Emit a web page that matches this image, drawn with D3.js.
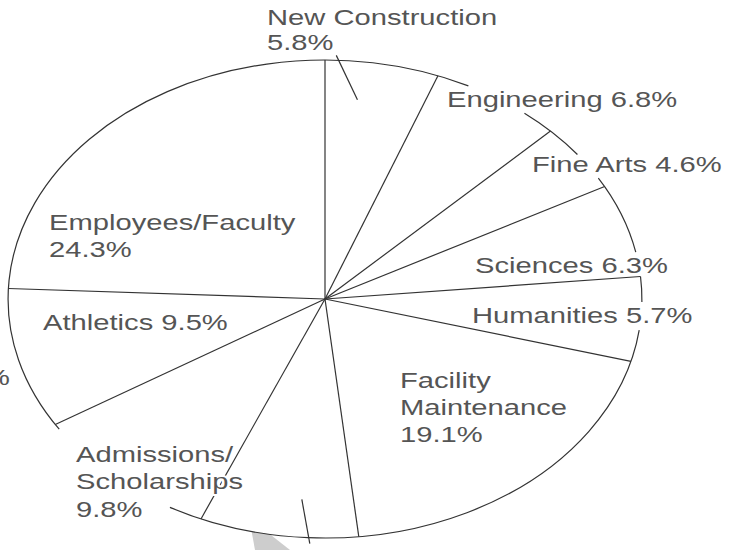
<!DOCTYPE html>
<html><head><meta charset="utf-8">
<script src="https://cdn.jsdelivr.net/npm/d3@7"></script>
<style>
html,body{margin:0;padding:0;background:#fff;}
svg{display:block;}
text{font-family:"Liberation Sans", Arial, Helvetica, sans-serif;}
</style></head><body>
<svg id="chart" width="743" height="550"></svg>
<script>
// ---- data (clockwise from the top) ----
const categories = ["New Construction","Engineering","Fine Arts","Sciences","Humanities",
                    "Facility Maintenance","Other","Admissions/Scholarships","Athletics","Employees/Faculty"];
const values = [5.8, 6.8, 4.6, 6.3, 5.7, 19.1, 8.1, 9.8, 9.5, 24.3];

// ---- layout (kept apart from the data) ----
const W = 743, H = 550;
const cx = 325, cy = 299, R = 239, sx = 1.326;      // pie drawn as a horizontally stretched circle
const startDeg = 0;
const fontSize = 22;
// label placement: x, first baseline, line height, wrap mode
const labelLayout = [
  {x:267, y:25,  lh:25, mode:"two"},
  {x:447, y:107, lh:27, mode:"one"},
  {x:532, y:172, lh:27, mode:"one"},
  {x:475, y:273, lh:27, mode:"one"},
  {x:472, y:323, lh:27, mode:"one"},
  {x:400, y:388, lh:27, mode:"multi"},
  null,
  {x:76,  y:462, lh:27.5, mode:"multi"},
  {x:43,  y:330, lh:27, mode:"one"},
  {x:49,  y:230, lh:27, mode:"two"}
];
// gaps in the outline where labels sit (degrees, clockwise from top)
const outlineGaps = [[26.9,39.0],[52.8,59.6],[78.7,84.6],[90.7,97.5],[209.3,237.0]];
// leader ticks: slice index, then (degrees after slice start, radius fraction) for both ends
const leaders = [
  {slice:0, a:[[2.0,1.02],[7.0,0.84]]},
  {slice:6, a:[[8.8,1.025],[11.1,0.842]]}
];

const rad = d => d*Math.PI/180;
const svg = d3.select("#chart");
svg.append("rect").attr("width",W).attr("height",H).attr("fill","#ffffff");

// faint background artwork
svg.append("path")
  .attr("d","M251,528L262,528L290,550L255,550Z")
  .attr("fill","#cdcdcd");

const g = svg.append("g").attr("transform",`translate(${cx},${cy}) scale(${sx},1)`);

const pie = d3.pie().sort(null).value(d=>d)
  .startAngle(rad(startDeg)).endAngle(rad(startDeg)+2*Math.PI);
const arcs = pie(values);
const arcGen = d3.arc().innerRadius(0).outerRadius(R);

const lineCol = "#333333";
g.selectAll("path.slice").data(arcs).join("path")
  .attr("class","slice").attr("d",arcGen).attr("fill","#ffffff").attr("stroke","none");

// radii
g.selectAll("line.radius").data(arcs).join("line")
  .attr("class","radius")
  .attr("x1",0).attr("y1",0)
  .attr("x2",d=>R*Math.sin(d.startAngle))
  .attr("y2",d=>-R*Math.cos(d.startAngle))
  .attr("stroke",lineCol).attr("stroke-width",1.2)
  .attr("vector-effect","non-scaling-stroke");

// outline with gaps
const gs = outlineGaps.slice().sort((a,b)=>a[0]-b[0]);
const segs = [];
for (let i=0;i<gs.length;i++){
  const a0 = gs[i][1];
  const a1 = i+1<gs.length ? gs[i+1][0] : gs[0][0]+360;
  segs.push([a0,a1]);
}
g.selectAll("path.outline").data(segs).join("path")
  .attr("class","outline")
  .attr("d",s=>{
    const p = d3.path();
    const t0 = rad(s[0])-Math.PI/2, t1 = rad(s[1])-Math.PI/2;
    p.moveTo(R*Math.cos(t0), R*Math.sin(t0));
    p.arc(0,0,R,t0,t1,false);
    return p.toString();
  })
  .attr("fill","none").attr("stroke",lineCol).attr("stroke-width",1.2)
  .attr("vector-effect","non-scaling-stroke");

// leader ticks
const pol = (s,[a,r]) => {
  const t = arcs[s].startAngle + rad(a);
  return [R*r*Math.sin(t), -R*r*Math.cos(t)];
};
g.selectAll("line.leader").data(leaders).join("line")
  .attr("class","leader")
  .attr("x1",d=>pol(d.slice,d.a[0])[0]).attr("y1",d=>pol(d.slice,d.a[0])[1])
  .attr("x2",d=>pol(d.slice,d.a[1])[0]).attr("y2",d=>pol(d.slice,d.a[1])[1])
  .attr("stroke",lineCol).attr("stroke-width",1.2)
  .attr("vector-effect","non-scaling-stroke");

// labels (white halo keeps lines from running through the words)
const textCol = "#555555";
const pct = v => v.toFixed(1)+"%";
categories.forEach((c,i)=>{
  const L = labelLayout[i];
  if(!L) return;
  let lines;
  if (L.mode==="one") lines = [c+" "+pct(values[i])];
  else if (L.mode==="two") lines = [c, pct(values[i])];
  else lines = c.split(/(?<=\/)| /).concat([pct(values[i])]);
  const t = svg.append("text")
    .attr("transform",`translate(${L.x},${L.y}) scale(${sx},1)`)
    .attr("font-size",fontSize).attr("fill",textCol)
    .attr("stroke","#ffffff").attr("stroke-width",4)
    .attr("stroke-linejoin","round").attr("paint-order","stroke");
  lines.forEach((ln,j)=>{
    t.append("tspan").attr("x",0).attr("dy", j===0?0:L.lh).text(ln);
  });
});

// fragment of a neighbouring label cut off at the left edge
svg.append("text")
  .attr("transform",`translate(10,385) scale(${sx},1)`)
  .attr("text-anchor","end").attr("font-size",fontSize).attr("fill",textCol)
  .text("%");
</script>
</body></html>
